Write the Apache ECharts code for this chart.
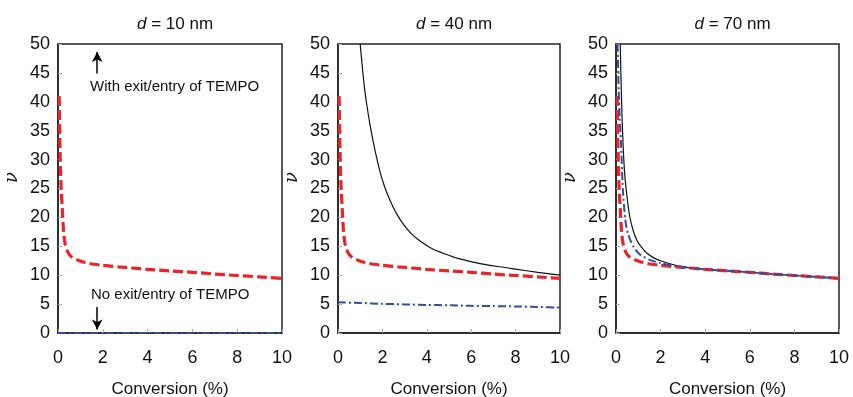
<!DOCTYPE html>
<html>
<head>
<meta charset="utf-8">
<script src="https://cdn.jsdelivr.net/npm/echarts@6/dist/echarts.min.js"></script>
<style>html,body{margin:0;padding:0;background:#fff;}#c{width:853px;height:397px;}</style>
</head>
<body>
<div id="c"></div>
<script>
// ---- data ----
const panelTitles = ['10', '40', '70'];
const xTicks = [0, 2, 4, 6, 8, 10];
const yTicks = [0, 5, 10, 15, 20, 25, 30, 35, 40, 45, 50];

// red dashed curve (same in all panels)
const redCurve = [[0.05,41],[0.07,36],[0.1,30],[0.14,25],[0.19,21.5],[0.25,17.5],[0.32,15.4],[0.45,13.9],[0.6,13.2],[0.9,12.6],[1.2,12.2],[1.6,11.9],[2,11.7],[2.7,11.45],[3.3,11.25],[4,11.0],[5,10.75],[6,10.5],[7,10.2],[8,9.95],[9,9.7],[10,9.45]];

// panel 1 (d = 10 nm)
const blue1 = [[0,0],[2,0],[4,0],[6,0],[8,0],[10,0]];

// panel 2 (d = 40 nm)
const black2 = [[1,50],[1.1,45.8],[1.2,42.2],[1.3,39.4],[1.43,36.3],[1.58,33.2],[1.73,30.5],[1.9,27.8],[2.1,25.3],[2.35,22.9],[2.63,20.7],[2.95,18.8],[3.3,17.2],[3.7,15.9],[4.2,14.65],[4.8,13.7],[5.4,12.9],[6.3,12.1],[7.2,11.5],[8,11.05],[9,10.5],[10,10]];
const blue2 = [[0,5.3],[1,5.2],[2,5.05],[3,4.95],[4,4.85],[5,4.8],[6,4.7],[7,4.65],[8,4.6],[9,4.5],[10,4.4]];

// panel 3 (d = 70 nm)
const black3 = [[0.19,50],[0.25,40],[0.31,33.3],[0.38,28],[0.46,24.7],[0.6,20.5],[0.75,18],[0.94,16],[1.15,14.8],[1.39,13.8],[1.7,13],[2,12.5],[2.5,11.9],[3,11.45],[3.5,11.2],[4,11.0],[5,10.75],[6,10.5],[7,10.2],[8,9.95],[9,9.7],[10,9.45]];
const blue3 = [[0.07,50],[0.12,42],[0.17,37],[0.22,33.3],[0.31,24.7],[0.42,19.5],[0.55,17],[0.79,14.9],[1.1,13.5],[1.54,12.6],[2,12.1],[2.5,11.7],[3,11.4],[3.5,11.2],[4,11.0],[5,10.75],[6,10.5],[7,10.2],[8,9.95],[9,9.7],[10,9.45]];

// annotation arrows (data coords in panel 1)
const arrowUp = [[1.75,44.9],[1.75,48.6]];
const arrowDown = [[1.75,4.5],[1.75,0.6]];

// ---- layout ----
const grids = [
  {left: 58, top: 44, width: 224, height: 289},
  {left: 338, top: 44, width: 222, height: 289},
  {left: 616, top: 44, width: 223, height: 289}
];
const FONT = 'Liberation Sans, Arial, sans-serif';
const RED = '#ec2327';
const BLUE = '#2f4fa6';

const chart = echarts.init(document.getElementById('c'));

const option = {
  animation: false,
  backgroundColor: '#fff',
  textStyle: {fontFamily: FONT},
  title: grids.map((g, i) => ({
    text: '{i|d} = ' + panelTitles[i] + ' nm',
    left: g.left + g.width / 2,
    textAlign: 'center',
    top: 11,
    textStyle: {
      fontSize: 17, fontWeight: 'normal', color: '#111', fontFamily: FONT,
      rich: {i: {fontStyle: 'italic', fontSize: 17, color: '#111', fontFamily: FONT}}
    }
  })),
  grid: grids.map(g => Object.assign({show: true, borderColor: '#222', borderWidth: 1.5, backgroundColor: 'transparent', containLabel: false, outerBoundsMode: 'none'}, g)),
  xAxis: grids.map((g, i) => ({
    type: 'value', gridIndex: i, min: 0, max: 10, interval: 2,
    name: 'Conversion (%)', nameLocation: 'middle', nameGap: 48,
    nameTextStyle: {fontSize: 17, color: '#111', fontFamily: FONT},
    axisLine: {show: true, lineStyle: {color: '#222', width: 1.5}},
    axisTick: {show: true, inside: true, length: 4, lineStyle: {color: '#aaa'}},
    axisLabel: {fontSize: 18, color: '#111', margin: 16, fontFamily: FONT},
    splitLine: {show: false}
  })),
  yAxis: grids.map((g, i) => ({
    type: 'value', gridIndex: i, min: 0, max: 50, interval: 5,
    name: 'ν', nameLocation: 'middle', nameGap: 37, nameRotate: 90,
    nameTextStyle: {fontSize: 18, fontStyle: 'italic', color: '#111', fontFamily: 'DejaVu Serif, serif', padding: [0, 0, 0, 22]},
    axisLine: {show: true, lineStyle: {color: '#222', width: 1.5}},
    axisTick: {show: true, inside: true, length: 4, lineStyle: {color: '#aaa'}},
    axisLabel: {fontSize: 18, color: '#111', margin: 8, fontFamily: FONT},
    splitLine: {show: false}
  })),
  series: [],
  graphic: [
    {type: 'text', left: 90, top: 79, style: {text: 'With exit/entry of TEMPO', fontSize: 15, fill: '#111', fontFamily: FONT}},
    {type: 'text', left: 91, top: 287, style: {text: 'No exit/entry of TEMPO', fontSize: 15, fill: '#111', fontFamily: FONT}}
  ]
};

function line(idx, data, color, width, type, z) {
  return {
    type: 'line', xAxisIndex: idx, yAxisIndex: idx, data: data,
    showSymbol: false, smooth: 0.25, z: z || 2,
    lineStyle: {color: color, width: width, type: type},
    clip: true
  };
}
const redDash = [10, 4];
const blueDash = [8, 3, 2, 3];

// panel 1
option.series.push(line(0, blue1, BLUE, 2, blueDash, 2));
option.series.push(line(0, redCurve, RED, 3.2, redDash, 3));
// panel 2
option.series.push(line(1, black2, '#111', 1.2, 'solid', 2));
option.series.push(line(1, blue2, BLUE, 2, blueDash, 2));
option.series.push(line(1, redCurve, RED, 3.2, redDash, 3));
// panel 3
option.series.push(line(2, black3, '#111', 1.2, 'solid', 2));
option.series.push(line(2, redCurve, RED, 3.2, redDash, 3));
option.series.push(line(2, blue3, BLUE, 2, blueDash, 4));

// arrows
[arrowUp, arrowDown].forEach(a => {
  option.series.push({
    type: 'line', xAxisIndex: 0, yAxisIndex: 0, data: [], silent: true,
    markLine: {
      silent: true, symbol: ['none', 'arrow'], symbolSize: [8, 10],
      label: {show: false},
      lineStyle: {color: '#000', width: 1.5, type: 'solid'},
      data: [[{coord: a[0]}, {coord: a[1]}]]
    }
  });
});

chart.setOption(option);
</script>
</body>
</html>
